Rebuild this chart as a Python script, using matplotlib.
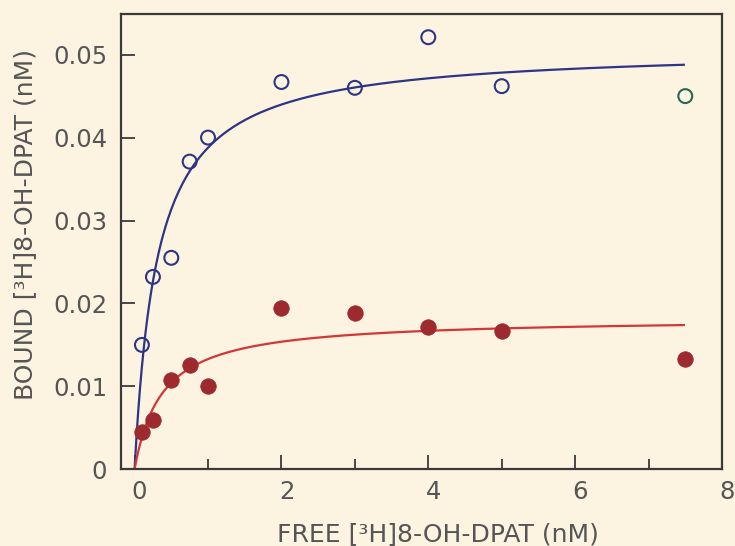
import numpy as np
import matplotlib
matplotlib.use("Agg")
import matplotlib.pyplot as plt
import matplotlib.transforms as mtransforms
from matplotlib.ticker import FixedLocator

# Saturation binding of [3H]8-OH-DPAT
free_nM = [0.1, 0.25, 0.5, 0.75, 1.0, 2.0, 3.0, 4.0, 5.0, 7.5]
bound_control = [0.0150, 0.0232, 0.0255, 0.0371, 0.0400, 0.0467, 0.0460, 0.0521, 0.0462, 0.0450]
bound_treated = [0.0045, 0.0059, 0.0108, 0.0126, 0.0100, 0.0194, 0.0189, 0.0171, 0.0167, 0.0133]

# Hyperbolic fit parameters (Bmax in nM, Kd in nM)
bmax_control, kd_control = 0.0508, 0.31
bmax_treated, kd_treated = 0.01826, 0.374
fit_end = 7.48

xticks = [0, 2, 4, 6, 8]
xminor = [1, 3, 5, 7]
yticks = [0, 0.01, 0.02, 0.03, 0.04, 0.05]
ytick_labels = ["0", "0.01", "0.02", "0.03", "0.04", "0.05"]

bg = "#fdf3e1"
blue = "#2d3585"
teal = "#2a6656"
red_fill = "#9c2a2e"
red_line = "#d43636"
text_col = "#555555"
spine_col = "#3a3a3a"

plt.rcParams["font.family"] = ["DejaVu Sans"]

fig = plt.figure(figsize=(7.35, 5.46), dpi=100, facecolor=bg)
ax = fig.add_axes([121 / 735, 1 - 469.3 / 546, (722 - 121) / 735, (469.3 - 14) / 546])
ax.set_facecolor(bg)

xs = np.linspace(0, fit_end, 300)
ax.plot(xs, bmax_control * xs / (kd_control + xs), color=blue, lw=1.6, zorder=2)
ax.plot(xs, bmax_treated * xs / (kd_treated + xs), color=red_line, lw=1.6, zorder=2)

edge_cols = [blue] * (len(free_nM) - 1) + [teal]
ax.scatter(free_nM, bound_control, s=100, facecolors="none", edgecolors=edge_cols,
           linewidths=1.5, zorder=3)
ax.scatter(free_nM, bound_treated, s=125, color=red_fill, edgecolors=red_fill,
           linewidths=0.5, zorder=3)

ax.set_xlim(-0.185, 8.0)
ax.set_ylim(0, 0.0549)
ax.xaxis.set_major_locator(FixedLocator(xticks))
ax.xaxis.set_minor_locator(FixedLocator(xminor))
ax.set_yticks(yticks)
ax.set_yticklabels(ytick_labels)

ax.tick_params(axis="both", which="major", direction="in", length=10, width=1.3,
               color=spine_col, labelsize=17.5, labelcolor=text_col)
ax.tick_params(axis="y", pad=10)
ax.tick_params(axis="x", pad=8)
ax.tick_params(axis="x", which="minor", direction="in", length=7, width=1.3, color=spine_col)
ax.tick_params(top=False, right=False, which="both")

# x tick labels sit slightly right of their ticks
shift = mtransforms.ScaledTranslation(5 / 100, 0, fig.dpi_scale_trans)
for lbl in ax.get_xticklabels():
    lbl.set_transform(lbl.get_transform() + shift)

for s in ax.spines.values():
    s.set_color(spine_col)
    s.set_linewidth(1.6)

fig.text(438 / 735, 1 - 534 / 546, "FREE [³H]8-OH-DPAT (nM)", fontsize=18,
         color=text_col, ha="center", va="center")
fig.text(25 / 735, 1 - 224 / 546, "BOUND [³H]8-OH-DPAT (nM)", fontsize=18,
         color=text_col, ha="center", va="center", rotation=90)

fig.savefig("out.png", dpi=100, facecolor=bg)
